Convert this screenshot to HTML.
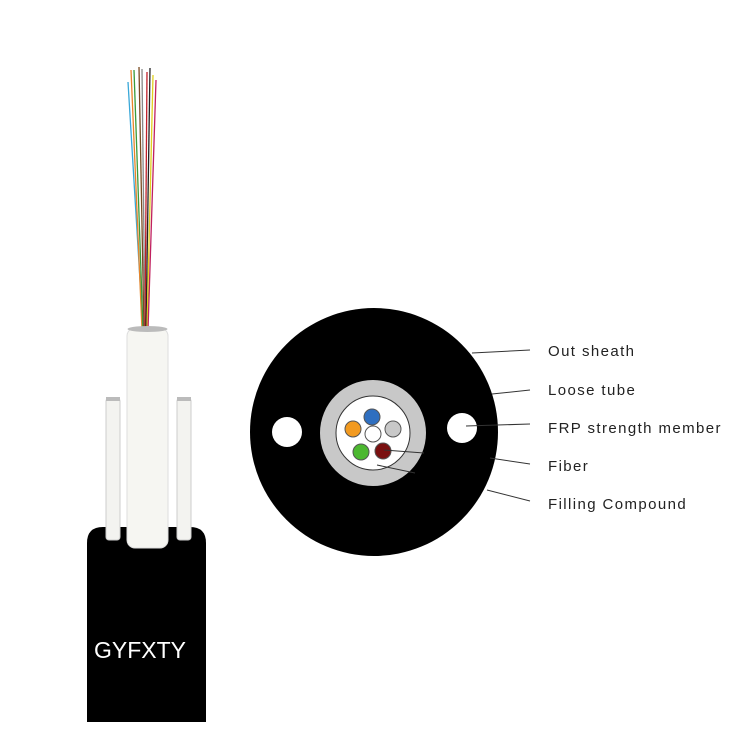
<!DOCTYPE html>
<html><head><style>body{margin:0;background:#fff}</style></head><body>
<svg width="750" height="750" viewBox="0 0 750 750" xmlns="http://www.w3.org/2000/svg" font-family="Liberation Sans, sans-serif">
<rect width="750" height="750" fill="#fff"/>
<g stroke-width="1.3" fill="none">
<path d="M128 82 L143 330" stroke="#3aa8d8"/>
<path d="M131 70 L142 330" stroke="#e8842a"/>
<path d="M134 70 L143 330" stroke="#3a9a3a"/>
<path d="M139 67 L144 330" stroke="#7a4a20"/>
<path d="M142 69 L145 330" stroke="#888"/>
<path d="M147 72 L145 330" stroke="#c0202a"/>
<path d="M150 68 L146 330" stroke="#222"/>
<path d="M153 75 L147 330" stroke="#e0d020"/>
<path d="M156 80 L148 330" stroke="#c02060"/>
</g>
<path d="M87 722 L87 543 Q87 527 103 527 L190 527 Q206 527 206 543 L206 722 Z" fill="#000"/>
<rect x="106" y="398" width="14" height="142" rx="3" fill="#f3f3f0" stroke="#ccc"/>
<rect x="177" y="398" width="14" height="142" rx="3" fill="#f3f3f0" stroke="#ccc"/>
<rect x="106" y="397" width="14" height="4" fill="#bbb"/>
<rect x="177" y="397" width="14" height="4" fill="#bbb"/>
<rect x="127" y="328" width="41" height="220" rx="8" fill="#f6f6f2" stroke="#ddd"/>
<ellipse cx="147.5" cy="329" rx="20" ry="3" fill="#bbb"/>
<text x="140" y="658" fill="#fff" font-size="23" text-anchor="middle">GYFXTY</text>
<circle cx="374" cy="432" r="124" fill="#000"/>
<circle cx="287" cy="432" r="15" fill="#fff"/>
<circle cx="462" cy="428" r="15" fill="#fff"/>
<circle cx="373" cy="433" r="53" fill="#c8c8c8"/>
<circle cx="373" cy="433" r="37" fill="#fff" stroke="#333" stroke-width="1"/>
<g stroke="#555" stroke-width="1">
<circle cx="372" cy="417" r="8" fill="#2f6fc0"/>
<circle cx="353" cy="429" r="8" fill="#f29a20"/>
<circle cx="393" cy="429" r="8" fill="#c8c8c8"/>
<circle cx="373" cy="434" r="8" fill="#fff"/>
<circle cx="361" cy="452" r="8" fill="#4cb830"/>
<circle cx="383" cy="451" r="8" fill="#7a1010"/>
</g>
<g stroke="#333" stroke-width="1">
<line x1="472" y1="353" x2="530" y2="350"/>
<line x1="492" y1="394" x2="530" y2="390"/>
<line x1="466" y1="426" x2="530" y2="424"/>
<line x1="384" y1="450" x2="424" y2="453"/>
<line x1="490" y1="458" x2="530" y2="464"/>
<line x1="377" y1="465" x2="415" y2="473"/>
<line x1="487" y1="490" x2="530" y2="501"/>
</g>
<g font-size="15" fill="#222" letter-spacing="1.4">
<text x="548" y="356">Out sheath</text>
<text x="548" y="395">Loose tube</text>
<text x="548" y="433">FRP strength member</text>
<text x="548" y="471">Fiber</text>
<text x="548" y="509">Filling Compound</text>
</g>
</svg>
</body></html>
